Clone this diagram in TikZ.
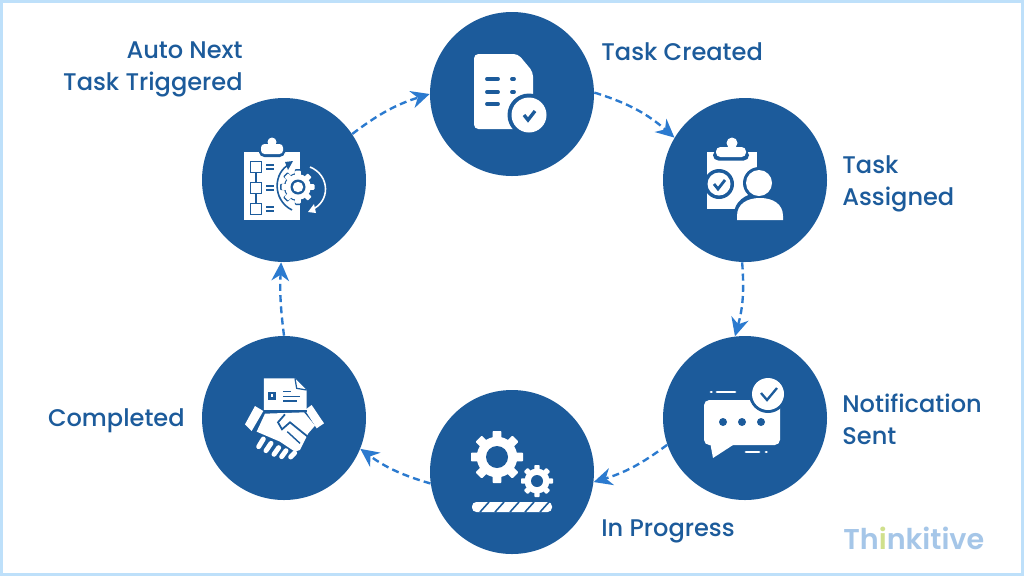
\documentclass[tikz,border=0pt]{standalone}
\usepackage{fontspec}
\setmainfont{Poppins}[UprightFont=* Medium]
\newfontfamily\logofont{Poppins SemiBold}
\usetikzlibrary{arrows.meta}
\definecolor{stepblue}{RGB}{28,91,155}
\definecolor{flowblue}{RGB}{43,122,207}
\definecolor{framecolor}{RGB}{190,224,250}
\definecolor{logoblue}{RGB}{165,198,232}
\definecolor{logogreen}{RGB}{208,224,140}
\tikzset{
  stepdisc/.style={circle, fill=stepblue, minimum size=164*0.02cm, inner sep=0pt},
  flow/.style={-{Stealth[length=10.5pt, width=10pt]}, flowblue, line width=1.35pt, dash pattern=on 4pt off 2.4pt},
  steplabel/.style={text=stepblue, font=\fontsize{13.7}{18.1}\selectfont, inner sep=0pt},
  iconline/.style={stepblue, line width=2.2pt, line cap=round},
  iconthin/.style={stepblue, line width=0.9pt},
  whitebar/.style={white, line width=1.6pt, line cap=round},
  whitethick/.style={white, line width=2.8pt, line cap=round}
}
% x, y, outer radius, hole radius, colour
\newcommand{\gearicon}[5]{
  \fill[#5] (#1,#2) circle (0.78*#3);
  \foreach \a in {0,45,...,315} {
    \fill[#5, shift={(#1,#2)}, rotate=\a, rounded corners=0.5pt] (-0.17*#3,0) rectangle (0.17*#3,-#3);
  }
  \fill[stepblue] (#1,#2) circle (#4);
}
\begin{document}
\begin{tikzpicture}[x=0.02cm, y=-0.02cm]
\useasboundingbox (0,0) rectangle (1024,576);
\fill[white] (0,0) rectangle (1024,576);
\draw[framecolor, line width=1.7pt] (1.5,1.5) rectangle (1022.5,574.5);

% =============================================================================
% STEPS
% =============================================================================
\node[stepdisc] (created) at (512,94) {};
\node[stepdisc] (assigned) at (745,180) {};
\node[stepdisc] (notified) at (745,418) {};
\node[stepdisc] (progress) at (512,472) {};
\node[stepdisc] (completed) at (284,418) {};
\node[stepdisc] (nexttask) at (284,180) {};

% =============================================================================
% CONNECTORS
% =============================================================================
\draw[flow] (created.1) to[bend left=12] (assigned.149);
\draw[flow] (assigned.-92) to[bend left=10] (notified.97);
\draw[flow] (notified.199) to[bend left=10] (progress.-7);
\draw[flow] (progress.188) to[bend left=10] (completed.-22);
\draw[flow] (completed.90) to[bend left=5] (nexttask.-92);
\draw[flow] (nexttask.34) to[bend left=10] (created.180);

% =============================================================================
% LABELS
% =============================================================================
\node[steplabel, anchor=west] (lcreated) at (601,52) {Task Created};
\node[steplabel, anchor=west, align=left] (lassigned) at (842,184) {Task\\Assigned};
\node[steplabel, anchor=west, align=left] (lnotified) at (842,419) {Notification\\Sent};
\node[steplabel, anchor=west] (lprogress) at (601,531) {In Progress};
\node[steplabel, anchor=east] (lcompleted) at (185,421) {Completed};
\node[steplabel, anchor=east, align=right] (lnexttask) at (243,69) {Auto Next\\Task Triggered};

% =============================================================================
% ICON: TASK CREATED
% =============================================================================
\fill[white, rounded corners=2.5pt] (474,54) -- (518,54) -- (533,72) -- (533,129) -- (474,129) -- cycle;
\foreach \y in {79,92} {
  \draw[iconline] (487,\y) -- (498,\y);
  \draw[iconline] (512,\y) -- (514,\y);
}
\draw[iconline] (487,104) -- (498,104);
\fill[stepblue] (529,115) circle (21.5);
\fill[white] (529,115) circle (17.5);
\draw[stepblue, line width=1.9pt] (524,115) -- (528,120) -- (535,111);

% =============================================================================
% ICON: TASK ASSIGNED
% =============================================================================
\fill[white] (707,152) rectangle (757,209);
\fill[stepblue, rounded corners=3pt] (713,150) rectangle (749,160.5);
\fill[white, rounded corners=2.5pt] (716,147) rectangle (746,157);
\fill[white] (732,143) circle (5.5);
\fill[stepblue] (719,184) circle (15);
\fill[white] (719,184) circle (11.5);
\draw[stepblue, line width=1.6pt] (714,184) -- (718,189) -- (725,180);
\fill[stepblue] (759,183) circle (16);
\fill[stepblue] (734,222) -- (734,214) arc (180:270:25 and 21) -- (762,193) arc (270:360:24 and 21) -- (786,222) -- cycle;
\fill[white] (737,220) -- (737,216) .. controls (737,204) and (747,198) .. (760,198) .. controls (773,198) and (783,204) .. (783,216) -- (783,220) -- cycle;
\fill[white] (759,183) circle (13);

% =============================================================================
% ICON: NOTIFICATION SENT
% =============================================================================
\fill[white, rounded corners=3pt] (704,400) rectangle (780,445);
\fill[white] (710,442) -- (713,458) -- (733,445) -- cycle;
\foreach \x in {723,742,761} {
  \fill[stepblue] (\x,422) circle (4);
}
\fill[stepblue] (768,394) circle (19);
\fill[white] (768,394) circle (16);
\draw[stepblue, line width=1.3pt] (761,393) -- (767,400) -- (777,388);
\draw[whitebar] (711,392) -- (711.5,392);
\draw[whitebar] (717,392) -- (735,392);
\draw[whitebar] (746,452) -- (759,452);
\draw[whitebar] (766,452) -- (766.5,452);

% =============================================================================
% ICON: IN PROGRESS
% =============================================================================
\gearicon{497}{457}{26}{11}{white}
\gearicon{537}{481}{16}{6}{white}
\fill[white, rounded corners=2.5pt] (472,502) rectangle (552,512);
\foreach \x in {480,495,510,525,540} {
  \draw[stepblue, line width=0.9pt] (\x,512) -- (\x+9,502);
}

% =============================================================================
% ICON: COMPLETED
% =============================================================================
\begin{scope}[shift={(200,335)}, scale=0.3333]
\fill[white] (192,130) -- (285,130) -- (320,165) -- (320,225) -- (192,225) -- cycle;
\draw[stepblue, line width=0.7pt] (285,130) -- (290,160) -- (320,165);
\fill[stepblue] (205,171) rectangle (228,194);
\fill[white] (212,178) rectangle (220,186);
\draw[iconthin] (250,170) -- (272,170);
\draw[iconthin] (250,185) -- (300,185);
\draw[iconthin] (250,198) -- (290,198);
% cuffs
\fill[white] (165,213) -- (190,228) -- (155,288) -- (135,268) -- cycle;
\fill[white] (335,210) -- (372,265) -- (350,280) -- (315,225) -- cycle;
% hands
\fill[stepblue] (192,225) rectangle (320,232);
\fill[white] (195,236) -- (312,232) -- (345,272) -- (325,295) -- (300,345) -- (285,350) -- (240,320) -- (170,290) -- cycle;
\draw[stepblue, line width=1pt] (255,238) -- (234,262) -- (246,283) -- (270,262) -- (322,304);
\draw[stepblue, line width=0.8pt] (262,290) -- (300,325);
\draw[whitethick] (176,335) -- (190,312);
\draw[whitethick] (198,347) -- (213,325);
\draw[whitethick] (222,358) -- (236,338);
\draw[whitethick] (245,365) -- (258,347);
\draw[whitethick] (272,366) -- (284,354);
\end{scope}

% =============================================================================
% ICON: AUTO NEXT TASK
% =============================================================================
\fill[white] (244,152) rectangle (300,220);
\fill[stepblue, rounded corners=3pt] (259,148) rectangle (285,157);
\fill[white, rounded corners=2pt] (261,144) rectangle (283,154);
\fill[white] (272,142) circle (4.5);
\foreach \y in {167,188,209} {
  \draw[stepblue, line width=0.9pt] (250.5,\y-5.5) rectangle (261.5,\y+5.5);
  \draw[stepblue, line width=0.9pt] (266,\y-2) -- (274,\y-2);
  \draw[stepblue, line width=0.9pt] (266,\y+2) -- (274,\y+2);
}
\draw[stepblue, line width=0.9pt] (256,172.5) -- (256,182.5);
\draw[stepblue, line width=0.9pt] (256,193.5) -- (256,203.5);
\gearicon{298}{187}{18}{0}{stepblue}
\gearicon{298}{187}{16.5}{7.5}{white}
\fill[white] (298,187) circle (5.2);
\draw[stepblue, line width=0.9pt] (290,164) .. controls (273,172) and (272,200) .. (292,210);
\fill[stepblue] (293,161) -- (288,170) -- (285,162) -- cycle;
\draw[white, line width=0.9pt] (310,167) .. controls (330,175) and (331,202) .. (311,210);
\fill[white] (308,212) -- (314,204) -- (316,213) -- cycle;

% =============================================================================
% LOGO
% =============================================================================
\node[anchor=base west, inner sep=0pt, font=\logofont\fontsize{16.3}{18}\selectfont] (logo) at (843,549) {\textcolor{logoblue}{Th}\textcolor{logogreen}{i}\textcolor{logoblue}{nkitive}};
\end{tikzpicture}
\end{document}
